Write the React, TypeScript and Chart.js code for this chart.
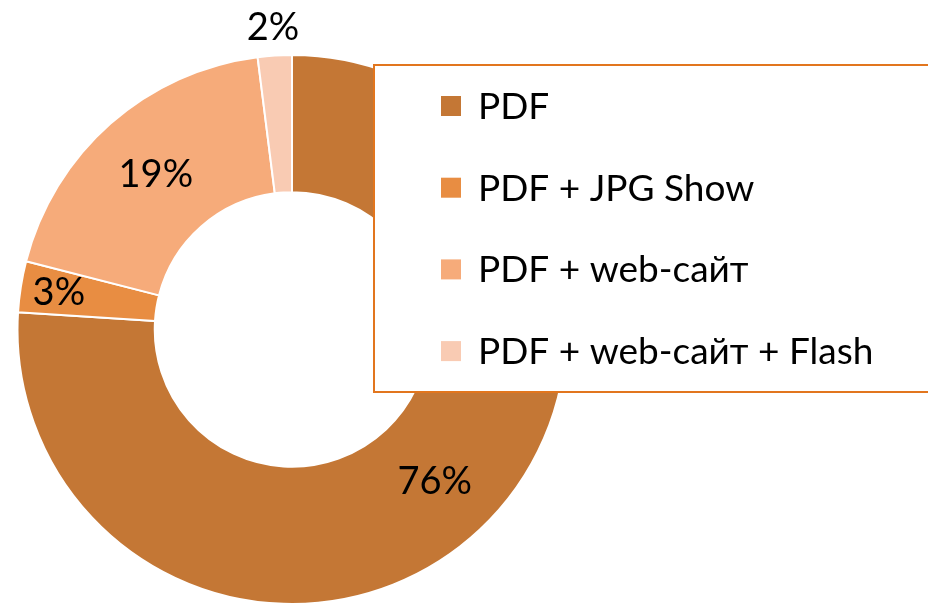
import React, { useEffect, useRef } from "react";
import { Chart, registerables } from "chart.js";

Chart.register(...registerables);

const categories = ["PDF", "PDF + JPG Show", "PDF + web-сайт", "PDF + web-сайт + Flash"];
const shares = [76, 3, 19, 2];
const sliceColors = ["#C47735", "#E88D42", "#F6AB7A", "#F9CBB3"];
// radial position of each percent label, as a fraction of the outer radius
const labelRadius = [0.76, 0.86, 0.75, 1.1];

const FONT = "Lato, 'Open Sans', sans-serif";

const percentLabels = {
  id: "percentLabels",
  afterDatasetsDraw(chart: any) {
    const ctx = chart.ctx;
    const meta = chart.getDatasetMeta(0);
    ctx.save();
    ctx.font = `38px ${FONT}`;
    ctx.fillStyle = "#000";
    ctx.textAlign = "center";
    ctx.textBaseline = "middle";
    meta.data.forEach((arc: any, i: number) => {
      const p = arc.getProps(["x", "y", "startAngle", "endAngle", "outerRadius"], true);
      const a = (p.startAngle + p.endAngle) / 2;
      const r = p.outerRadius * labelRadius[i];
      ctx.fillText(`${shares[i]}%`, p.x + Math.cos(a) * r, p.y + Math.sin(a) * r);
    });
    ctx.restore();
  },
};

const boxLegend = {
  id: "boxLegend",
  afterDraw(chart: any) {
    const ctx = chart.ctx;
    const left = 374;
    const top = 65;
    const height = 327;
    ctx.save();
    ctx.fillStyle = "#fff";
    ctx.fillRect(left, top, chart.width - left + 10, height);
    ctx.strokeStyle = "#E2761E";
    ctx.lineWidth = 2;
    ctx.strokeRect(left, top, chart.width - left + 10, height);
    ctx.font = `37px ${FONT}`;
    ctx.textBaseline = "middle";
    ctx.textAlign = "left";
    const rowH = 81.7;
    const firstY = 106;
    chart.data.labels.forEach((lab: string, i: number) => {
      const y = firstY + i * rowH;
      ctx.fillStyle = sliceColors[i];
      ctx.fillRect(441, y - 10, 20, 20);
      ctx.fillStyle = "#000";
      ctx.fillText(lab, 478, y + 1);
    });
    ctx.restore();
  },
};

export default function App() {
  const ref = useRef<HTMLCanvasElement>(null);
  useEffect(() => {
    document.body.style.margin = "0";
    const chart = new Chart(ref.current as HTMLCanvasElement, {
      type: "doughnut",
      data: {
        labels: categories,
        datasets: [
          {
            data: shares,
            backgroundColor: sliceColors,
            borderColor: "#ffffff",
            borderWidth: 2,
          },
        ],
      },
      options: {
        responsive: false,
        animation: false,
        cutout: "50%",
        layout: { padding: { left: 16, top: 54, right: 360, bottom: 0 } },
        plugins: {
          legend: { display: false },
          tooltip: { enabled: false },
        },
      },
      plugins: [percentLabels, boxLegend],
    });
    return () => chart.destroy();
  }, []);
  return (
    <div style={{ position: "fixed", left: 0, top: 0, width: 928, height: 605, background: "#fff" }}>
      <canvas ref={ref} width={928} height={605} />
    </div>
  );
}
